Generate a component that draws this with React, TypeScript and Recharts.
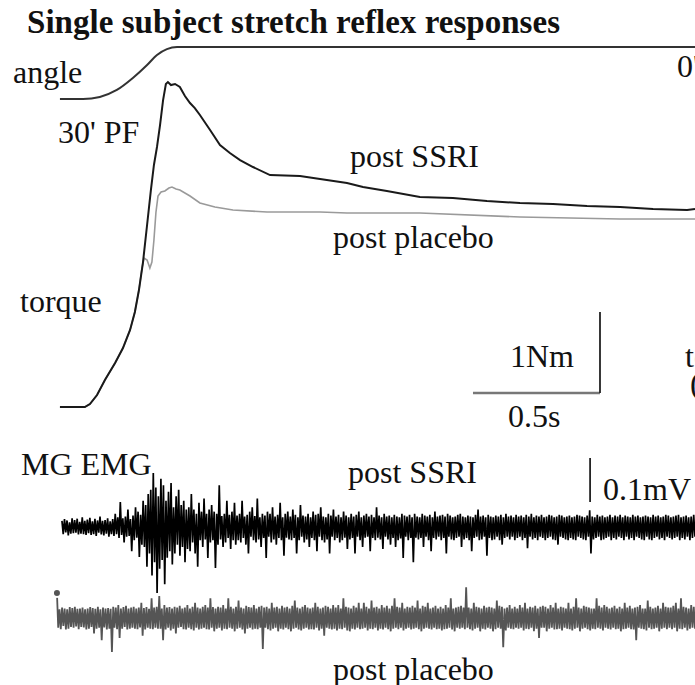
import React from 'react';
import { ComposedChart, Line, XAxis, YAxis, ReferenceLine } from 'recharts';

// ---- angle trace (time s, angle deg; 0 = neutral, -30 = 30' PF)
const angleTime = [0.0, 0.091, 0.157, 0.224, 0.287, 0.343, 0.382, 0.421, 0.461, 2.5];
const angleDeg = [-30, -30, -28.8, -24.8, -17.9, -10.4, -4.6, -1.2, 0, 0];

// ---- torque traces (time s, Nm)
const ssriTorqueTime = [0.0, 0.098, 0.118, 0.146, 0.177, 0.217, 0.248, 0.276, 0.295, 0.311, 0.327, 0.343, 0.358, 0.37, 0.382, 0.394, 0.406, 0.417, 0.425, 0.437, 0.453, 0.472, 0.492, 0.512, 0.531, 0.551, 0.591, 0.63, 0.669, 0.709, 0.76, 0.827, 0.945, 1.024, 1.13, 1.193, 1.287, 1.417, 1.547, 1.681, 1.811, 1.941, 2.075, 2.205, 2.335, 2.469, 2.5];
const ssriTorqueNm = [0, 0, 0.037, 0.148, 0.333, 0.543, 0.728, 0.951, 1.173, 1.444, 1.79, 2.247, 2.679, 2.988, 3.21, 3.481, 3.79, 3.988, 4.012, 3.975, 3.988, 3.951, 3.84, 3.753, 3.691, 3.605, 3.42, 3.235, 3.136, 3.049, 2.963, 2.864, 2.852, 2.815, 2.765, 2.716, 2.667, 2.593, 2.58, 2.543, 2.519, 2.506, 2.481, 2.469, 2.444, 2.432, 2.444];

const placeboTorqueTime = [0.0, 0.098, 0.118, 0.146, 0.177, 0.217, 0.248, 0.276, 0.295, 0.311, 0.323, 0.331, 0.343, 0.354, 0.362, 0.37, 0.378, 0.386, 0.398, 0.413, 0.429, 0.441, 0.457, 0.472, 0.512, 0.551, 0.61, 0.681, 0.815, 1.024, 1.13, 1.417, 1.811, 2.205, 2.5];
const placeboTorqueNm = [0, 0, 0.037, 0.148, 0.333, 0.543, 0.728, 0.951, 1.173, 1.444, 1.716, 1.84, 1.815, 1.716, 1.79, 2.062, 2.407, 2.605, 2.654, 2.667, 2.704, 2.716, 2.691, 2.679, 2.605, 2.519, 2.469, 2.432, 2.407, 2.407, 2.395, 2.395, 2.346, 2.321, 2.321];

// ---- MG EMG (µV), sampled at a fixed interval
const ssriEmgStart = 0.0079;
const ssriEmgStep = 0.004994;
const ssriEmgUv = [
  14, -16, 18, -12, 15, -19, 11, -15, 20, -14, 16, -13, 19, -17, 12, -15, 22, -16, 14, -18,
  17, -14, 21, -18, 13, -16, 19, -20, 15, -13, 24, -17, 14, -19, 16, -15, 20, -22, 13, -16,
  18, -20, 30, -16, 22, -25, 57, -18, 20, -35, 24, -22, 40, -20, 18, -55, 26, -30, 45, -24,
  35, -68, 28, -40, 60, -45, 50, -90, 75, -60, 85, -110, 123, -80, 90, -150, 70, -95, 110, -75,
  95, -130, 60, -70, 80, -55, 100, -85, 45, -60, 70, -40, 85, -65, 50, -45, 60, -80, 40, -50,
  45, -55, 75, -35, 40, -60, 30, -90, 55, -30, 35, -45, 65, -28, 30, -70, 40, -35, 50, -30,
  35, -93, 30, -40, 95, -28, 25, -45, 30, -35, 60, -25, 28, -50, 35, -30, 55, -40, 26, -30,
  30, -35, 60, -25, 24, -40, 28, -60, 35, -22, 45, -30, 25, -35, 65, -28, 22, -45, 30, -25,
  26, -70, 35, -22, 30, -35, 45, -28, 24, -40, 28, -25, 55, -30, 22, -65, 30, -24, 35, -28,
  24, -30, 40, -25, 28, -60, 22, -30, 50, -22, 26, -35, 24, -28, 30, -45, 22, -25, 35, -30,
  28, -55, 30, -22, 45, -30, 24, -35, 22, -28, 30, -60, 26, -22, 40, -30, 24, -25, 28, -35,
  22, -30, 35, -24, 26, -50, 22, -28, 30, -25, 24, -60, 28, -22, 35, -30, 22, -45, 26, -24,
  30, -22, 24, -55, 28, -25, 22, -30, 45, -24, 26, -28, 22, -50, 30, -22, 24, -28, 26, -40,
  22, -25, 28, -45, 24, -30, 22, -26, 30, -70, 26, -22, 24, -30, 28, -25, 22, -80, 30, -24,
  24, -28, 22, -25, 30, -45, 26, -22, 24, -30, 28, -55, 22, -25, 35, -28, 24, -22, 26, -30,
  28, -25, 24, -60, 30, -22, 26, -28, 22, -30, 24, -25, 28, -22, 30, -45, 24, -28, 22, -25,
  26, -30, 24, -55, 22, -25, 28, -22, 40, -30, 24, -28, 26, -22, 22, -65, 28, -25, 24, -30,
  22, -28, 26, -22, 24, -30, 28, -40, 22, -25, 30, -22, 24, -28, 26, -22, 22, -30, 28, -25,
  24, -22, 26, -30, 22, -25, 28, -48, 24, -22, 30, -28, 22, -25, 26, -30, 24, -22, 28, -25,
  22, -30, 24, -25, 28, -22, 26, -28, 22, -30, 24, -40, 28, -22, 26, -25, 22, -28, 24, -30,
  26, -25, 22, -28, 24, -30, 28, -22, 26, -25, 24, -28, 22, -30, 26, -22, 38, -60, 24, -28,
  22, -25, 28, -22, 24, -30, 26, -28, 22, -25, 24, -22, 28, -30, 22, -25, 26, -28, 24, -22,
  28, -25, 22, -30, 26, -22, 24, -28, 22, -25, 28, -30, 24, -22, 26, -25, 22, -28, 24, -30,
  26, -22, 24, -28, 22, -30, 28, -25, 24, -22, 26, -28, 22, -25, 24, -30, 28, -22, 26, -25,
  22, -28, 24, -25, 26, -22, 28, -30, 22, -25, 24, -28, 26, -22, 22, -30, 24, -25, 28, -22,
];

const placeboEmgStart = -0.0118;
const placeboEmgStep = 0.005034;
const placeboEmgUv = [
  57, -22, 20, -25, 24, -18, 22, -26, 20, -24, 25, -20, 23, -22, 26, -19, 21, -25, 22, -20,
  24, -21, 20, -26, 22, -24, 25, -20, 23, -35, 21, -24, 26, -22, 20, -50, 24, -21, 22, -26,
  23, -24, 21, -77, 26, -22, 24, -25, 30, -45, 22, -24, 25, -20, 28, -26, 22, -24, 24, -22,
  26, -24, 22, -25, 24, -21, 35, -40, 23, -26, 25, -22, 21, -24, 45, -25, 24, -22, 26, -24,
  50, -24, 22, -50, 30, -26, 24, -22, 25, -28, 22, -24, 26, -35, 24, -22, 28, -20, 22, -25,
  24, -26, 30, -22, 22, -25, 26, -28, 35, -22, 24, -26, 22, -24, 26, -22, 30, -25, 24, -26,
  45, -22, 25, -30, 22, -24, 26, -22, 24, -28, 30, -24, 22, -25, 45, -22, 26, -24, 22, -30,
  26, -24, 40, -22, 24, -26, 22, -35, 28, -24, 25, -22, 24, -26, 30, -24, 22, -25, 26, -22,
  28, -70, 24, -22, 26, -25, 22, -28, 35, -24, 24, -22, 26, -30, 22, -24, 28, -26, 24, -22,
  26, -25, 22, -30, 28, -24, 40, -22, 24, -26, 22, -28, 26, -24, 30, -22, 24, -26, 22, -25,
  24, -26, 35, -22, 26, -28, 22, -24, 24, -40, 28, -22, 26, -24, 22, -26, 30, -24, 24, -28,
  30, -24, 22, -25, 45, -22, 26, -28, 24, -30, 22, -24, 28, -26, 24, -22, 35, -25, 22, -24,
  35, -22, 26, -28, 22, -24, 40, -25, 24, -22, 26, -28, 22, -24, 30, -26, 24, -22, 28, -25,
  22, -30, 28, -24, 45, -22, 26, -25, 24, -22, 35, -28, 22, -24, 26, -22, 24, -26, 28, -24,
  24, -22, 40, -25, 22, -30, 28, -24, 26, -22, 35, -24, 22, -26, 24, -22, 28, -25, 22, -24,
  26, -28, 22, -25, 30, -24, 24, -22, 45, -26, 22, -30, 24, -22, 26, -24, 28, -22, 24, -25,
  70, -22, 24, -25, 22, -28, 35, -24, 26, -22, 24, -30, 22, -24, 28, -26, 24, -22, 26, -24,
  24, -30, 22, -25, 40, -22, 28, -24, 26, -66, 22, -28, 24, -22, 30, -24, 22, -25, 26, -22,
  22, -24, 30, -22, 24, -28, 35, -24, 22, -25, 26, -22, 24, -30, 28, -24, 22, -45, 26, -22,
  28, -22, 26, -30, 22, -24, 30, -22, 24, -26, 35, -25, 22, -24, 26, -28, 24, -22, 22, -24,
  35, -25, 22, -28, 26, -24, 45, -22, 24, -30, 22, -24, 28, -22, 26, -25, 24, -28, 22, -24,
  22, -25, 45, -22, 28, -24, 24, -28, 30, -22, 26, -24, 22, -26, 24, -22, 28, -25, 22, -24,
  26, -30, 22, -25, 35, -24, 24, -22, 28, -25, 22, -26, 24, -50, 26, -22, 30, -24, 22, -25,
  22, -28, 40, -22, 26, -25, 22, -24, 24, -22, 28, -30, 22, -24, 35, -22, 26, -25, 24, -22,
  24, -25, 28, -22, 35, -30, 22, -24, 45, -25, 26, -22, 24, -28, 22, -24, 30, -22, 26, -24,
];

// ---- scale bars
const timeBar = { t0: 1.626, t1: 2.126, nm: 0.173 }; // 0.5 s
const torqueBar = { t: 2.126, nm0: 0.173, nm1: 1.173 }; // 1 Nm
const emgBar = { t: 2.087, uv0: 57, uv1: 157 }; // 0.1 mV

const angleData = angleTime.map((t, i) => ({ t, v: angleDeg[i] }));
const ssriTorqueData = ssriTorqueTime.map((t, i) => ({ t, v: ssriTorqueNm[i] }));
const placeboTorqueData = placeboTorqueTime.map((t, i) => ({ t, v: placeboTorqueNm[i] }));
const ssriEmgData = ssriEmgUv.map((v, i) => ({ t: ssriEmgStart + i * ssriEmgStep, v }));
const placeboEmgData = placeboEmgUv.map((v, i) => ({ t: placeboEmgStart + i * placeboEmgStep, v }));

const W = 695;
const H = 685;
const FONT = '"Liberation Serif", "Times New Roman", serif';

export default function App() {
  return (
    <div style={{ position: 'absolute', left: 0, top: 0, width: W, height: H, background: '#fff' }}>
      <ComposedChart width={W} height={H} margin={{ top: 0, right: 0, bottom: 0, left: 0 }}>
        <XAxis type="number" dataKey="t" domain={[-0.236, 2.5]} hide allowDataOverflow />
        <YAxis yAxisId="angle" type="number" domain={[-368.1, 27.12]} hide allowDataOverflow />
        <YAxis yAxisId="torque" type="number" domain={[-3.432, 5.025]} hide allowDataOverflow />
        <YAxis yAxisId="emgS" type="number" domain={[-359, 1198]} hide allowDataOverflow />
        <YAxis yAxisId="emgP" type="number" domain={[-152, 1405]} hide allowDataOverflow />

        <Line yAxisId="angle" data={angleData} dataKey="v" type="monotone" stroke="#333" strokeWidth={2} dot={false} isAnimationActive={false} />
        <Line yAxisId="torque" data={placeboTorqueData} dataKey="v" type="linear" stroke="#9a9a9a" strokeWidth={1.6} dot={false} isAnimationActive={false} />
        <Line yAxisId="torque" data={ssriTorqueData} dataKey="v" type="linear" stroke="#1a1a1a" strokeWidth={2} dot={false} isAnimationActive={false} />
        <Line yAxisId="emgS" data={ssriEmgData} dataKey="v" type="linear" stroke="#000" strokeWidth={1.7} dot={false} isAnimationActive={false} />
        <Line yAxisId="emgP" data={placeboEmgData} dataKey="v" type="linear" stroke="#555" strokeWidth={1.8} dot={false} isAnimationActive={false} />

        <ReferenceLine yAxisId="torque" segment={[{ x: timeBar.t0, y: timeBar.nm }, { x: timeBar.t1, y: timeBar.nm }]} stroke="#777" strokeWidth={2.5} />
        <ReferenceLine yAxisId="torque" segment={[{ x: torqueBar.t, y: torqueBar.nm0 }, { x: torqueBar.t, y: torqueBar.nm1 }]} stroke="#222" strokeWidth={1.8} />
        <ReferenceLine yAxisId="emgS" segment={[{ x: emgBar.t, y: emgBar.uv0 }, { x: emgBar.t, y: emgBar.uv1 }]} stroke="#222" strokeWidth={1.8} />
      </ComposedChart>
      <svg width={W} height={H} style={{ position: 'absolute', left: 0, top: 0, pointerEvents: 'none' }}>
        <g fontFamily={FONT} fill="#111">
          <text x={27} y={33} fontSize={33} fontWeight="bold" textLength={533} lengthAdjust="spacing">Single subject stretch reflex responses</text>
          <text x={13} y={83} fontSize={32}>angle</text>
          <text x={677} y={77} fontSize={32}>0'</text>
          <text x={58} y={143} fontSize={32}>30' PF</text>
          <text x={20} y={312} fontSize={32}>torque</text>
          <text x={350} y={167} fontSize={32}>post SSRI</text>
          <text x={333} y={248} fontSize={32}>post placebo</text>
          <text x={510} y={367} fontSize={32}>1Nm</text>
          <text x={508} y={427} fontSize={32}>0.5s</text>
          <text x={685} y={367} fontSize={32}>to</text>
          <text x={690} y={394} fontSize={32}>(</text>
          <text x={21} y={475} fontSize={32}>MG EMG</text>
          <text x={348} y={483} fontSize={32}>post SSRI</text>
          <text x={603} y={500} fontSize={32}>0.1mV</text>
          <text x={333} y={680} fontSize={32}>post placebo</text>
        </g>
      </svg>
    </div>
  );
}
